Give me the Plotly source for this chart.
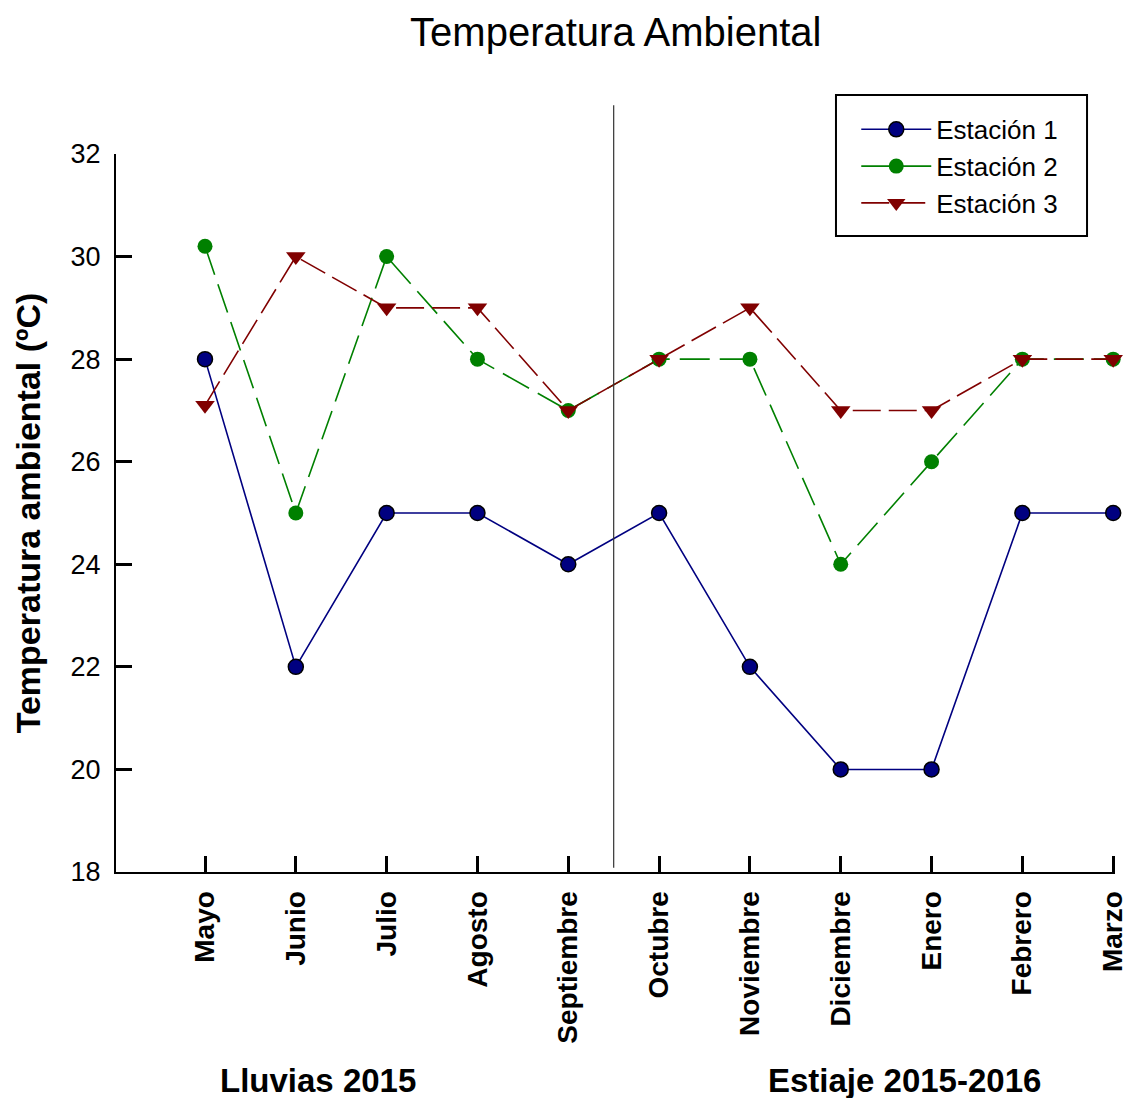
import plotly.graph_objects as go

meses = ["Mayo", "Junio", "Julio", "Agosto", "Septiembre", "Octubre",
         "Noviembre", "Diciembre", "Enero", "Febrero", "Marzo"]
est1 = [28, 22, 25, 25, 24, 25, 22, 20, 20, 25, 25]
est2 = [30.2, 25, 30, 28, 27, 28, 28, 24, 26, 28, 28]
est3 = [27.1, 30, 29, 29, 27, 28, 29, 27, 27, 28, 28]
y_ticks = [18, 20, 22, 24, 26, 28, 30, 32]
periodos = ["Lluvias 2015", "Estiaje 2015-2016"]
divisor_x = 4.5
divisor_top = 32.95

xs = list(range(len(meses)))
x_range = [-0.98, 10.02]
y_range = [18, 32]

FONT = "Liberation Sans, Arial, sans-serif"

fig = go.Figure()
fig.add_trace(go.Scatter(
    x=xs, y=est1, name="Estación 1", mode="lines+markers",
    line=dict(color="#000080", width=1.6),
    marker=dict(symbol="circle", size=15, color="#000080",
                line=dict(color="black", width=1.5)),
    cliponaxis=False))
fig.add_trace(go.Scatter(
    x=xs, y=est2, name="Estación 2", mode="lines+markers",
    line=dict(color="#008000", width=1.6, dash="30px,10px"),
    marker=dict(symbol="circle", size=15, color="#008000"),
    cliponaxis=False))
fig.add_trace(go.Scatter(
    x=xs, y=est3, name="Estación 3", mode="lines+markers",
    line=dict(color="#800000", width=1.6, dash="28px,8px"),
    marker=dict(symbol="triangle-down", size=17, color="#800000"),
    cliponaxis=False))

# vertical divider between seasons (paper coords computed from ranges)
px = (divisor_x - x_range[0]) / (x_range[1] - x_range[0])
py1 = (divisor_top - y_range[0]) / (y_range[1] - y_range[0])
fig.add_shape(type="line", xref="paper", yref="paper",
              x0=px, x1=px, y0=0.006, y1=py1,
              line=dict(color="#333333", width=1.2))

# legend frame
fig.add_shape(type="rect", xref="paper", yref="paper",
              x0=0.7207, x1=0.972, y0=0.8858, y1=1.0822,
              line=dict(color="black", width=2), fillcolor="rgba(0,0,0,0)")

# season labels
fig.add_annotation(text="<b>" + periodos[0] + "</b>", xref="x", yref="paper",
                   x=1.24, y=-0.29, showarrow=False, yanchor="middle",
                   font=dict(size=33, color="black", family=FONT))
fig.add_annotation(text="<b>" + periodos[1] + "</b>", xref="x", yref="paper",
                   x=7.7, y=-0.29, showarrow=False, yanchor="middle",
                   font=dict(size=33, color="black", family=FONT))

fig.update_layout(
    width=1133, height=1098,
    margin=dict(l=116, r=18, t=154, b=226, autoexpand=False),
    paper_bgcolor="white", plot_bgcolor="white",
    font=dict(family=FONT, color="black"),
    title=dict(text="Temperatura Ambiental", x=0.5435, xanchor="center",
               y=0.971, yanchor="middle",
               font=dict(size=40, family=FONT, color="black")),
    showlegend=True,
    legend=dict(x=0.741, y=1.067, xanchor="left", yanchor="top",
                borderwidth=0, bgcolor="rgba(0,0,0,0)",
                font=dict(size=26, family=FONT, color="black"),
                itemwidth=70, tracegroupgap=0),
    xaxis=dict(range=x_range, tickmode="array", tickvals=xs,
               ticktext=["<b>" + m + "</b>" for m in meses],
               tickangle=-90, ticks="inside", ticklen=16, tickwidth=3,
               tickcolor="black", showline=True, linecolor="black",
               linewidth=2, showgrid=False, zeroline=False,
               automargin=False,
               tickfont=dict(size=28, family=FONT, color="black"),
               ticklabelstandoff=6),
    yaxis=dict(range=y_range, tickmode="array", tickvals=y_ticks,
               ticks="inside", ticklen=16, tickwidth=3, tickcolor="black",
               showline=True, linecolor="black", linewidth=2,
               showgrid=False, zeroline=False, automargin=False,
               tickfont=dict(size=27, family=FONT, color="black"),
               ticklabelstandoff=8,
               title=dict(text="<b>Temperatura ambiental (ºC)</b>",
                          font=dict(size=34, family=FONT, color="black"),
                          standoff=20)),
)

fig.write_html("out.html")
